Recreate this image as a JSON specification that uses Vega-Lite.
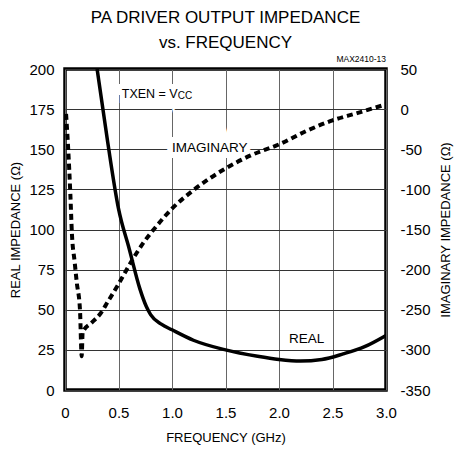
{
  "$schema": "https://vega.github.io/schema/vega-lite/v6.json",
  "width": 321,
  "height": 321,
  "autosize": {"type": "none"},
  "padding": {"left": 65, "top": 69, "right": 70, "bottom": 62},
  "background": "white",
  "title": {
    "text": ["PA DRIVER OUTPUT IMPEDANCE", "vs. FREQUENCY"],
    "font": "Liberation Sans, Arial, sans-serif",
    "fontSize": 17,
    "fontWeight": "normal",
    "color": "black",
    "lineHeight": 25,
    "anchor": "middle",
    "offset": 2.5
  },
  "config": {
    "view": {"stroke": "black", "strokeWidth": 3.5},
    "axis": {
      "labelFont": "Liberation Sans, Arial, sans-serif",
      "titleFont": "Liberation Sans, Arial, sans-serif",
      "labelFontSize": 15,
      "titleFontSize": 13,
      "titleFontWeight": "normal",
      "labelColor": "black",
      "titleColor": "black",
      "tickSize": 0,
      "tickOpacity": 0,
      "domain": false,
      "grid": true,
      "gridOpacity": 1,
      "gridWidth": 1
    },
    "text": {"font": "Liberation Sans, Arial, sans-serif"}
  },
  "datasets": {
    "real": [
      {"f": 0.3, "v": 200}, {"f": 0.4, "v": 154}, {"f": 0.5, "v": 113}, {"f": 0.6, "v": 88},
      {"f": 0.7, "v": 63}, {"f": 0.76, "v": 52}, {"f": 0.8, "v": 47}, {"f": 0.9, "v": 41},
      {"f": 1.0, "v": 37.5}, {"f": 1.2, "v": 31}, {"f": 1.5, "v": 25}, {"f": 1.8, "v": 21},
      {"f": 2.0, "v": 19}, {"f": 2.2, "v": 18}, {"f": 2.4, "v": 19}, {"f": 2.6, "v": 22.5},
      {"f": 2.8, "v": 27}, {"f": 3.0, "v": 34}
    ],
    "imag": [
      {"f": 0.01, "v": -6}, {"f": 0.03, "v": -50}, {"f": 0.05, "v": -106}, {"f": 0.065, "v": -156},
      {"f": 0.09, "v": -190}, {"f": 0.11, "v": -216}, {"f": 0.14, "v": -250}, {"f": 0.156, "v": -308},
      {"f": 0.165, "v": -278}, {"f": 0.25, "v": -266}, {"f": 0.33, "v": -255}, {"f": 0.4, "v": -240},
      {"f": 0.5, "v": -218}, {"f": 0.62, "v": -190}, {"f": 0.73, "v": -167}, {"f": 0.86, "v": -145},
      {"f": 1.0, "v": -124}, {"f": 1.2, "v": -101}, {"f": 1.5, "v": -74}, {"f": 1.73, "v": -58},
      {"f": 2.0, "v": -44}, {"f": 2.26, "v": -27}, {"f": 2.5, "v": -14}, {"f": 2.73, "v": -5},
      {"f": 3.0, "v": 6}
    ],
    "labels": [
      {"f": 1.352, "v": 148.3, "label": "IMAGINARY"},
      {"f": 2.258, "v": 29.5, "label": "REAL"}
    ],
    "txen": [
      {"f": 1.053, "v": 182.2, "main": "TXEN = V", "sub": "CC"}
    ],
    "code": [
      {"f": 3.0, "v": 204.4, "label": "MAX2410-13"}
    ]
  },
  "encoding": {
    "x": {
      "field": "f",
      "type": "quantitative",
      "scale": {"domain": [0, 3], "nice": false, "zero": false},
      "axis": {
        "values": [0, 0.5, 1, 1.5, 2, 2.5, 3],
        "labelExpr": "datum.value == 0 ? '0' : format(datum.value, '.1f')",
        "labelPadding": 15,
        "title": "FREQUENCY (GHz)",
        "titlePadding": 11,
        "grid": true,
        "gridColor": "#666",
        "labelFlush": false
      }
    }
  },
  "layer": [
    {
      "data": {"name": "real"},
      "mark": {"type": "line", "color": "black", "strokeWidth": 3.5, "interpolate": "monotone", "clip": true},
      "encoding": {
        "y": {
          "field": "v",
          "type": "quantitative",
          "scale": {"domain": [0, 200], "nice": false},
          "axis": {
            "orient": "left",
            "values": [0, 25, 50, 75, 100, 125, 150, 175, 200],
            "labelPadding": 11,
            "title": "REAL IMPEDANCE (Ω)",
            "titlePadding": 6,
            "grid": true,
            "gridColor": "#333"
          }
        }
      }
    },
    {
      "data": {"name": "labels"},
      "mark": {"type": "text", "fontSize": 13.5, "stroke": "white", "strokeWidth": 12, "align": "center", "baseline": "alphabetic"},
      "encoding": {
        "y": {"field": "v", "type": "quantitative", "scale": {"domain": [0, 200], "nice": false}, "axis": null},
        "text": {"field": "label"}
      }
    },
    {
      "data": {"name": "txen"},
      "mark": {"type": "text", "fontSize": 12.5, "stroke": "white", "strokeWidth": 10, "align": "right", "baseline": "alphabetic"},
      "encoding": {
        "y": {"field": "v", "type": "quantitative", "scale": {"domain": [0, 200], "nice": false}, "axis": null},
        "text": {"field": "main"}
      }
    },
    {
      "data": {"name": "imag"},
      "mark": {"type": "line", "color": "black", "strokeWidth": 4, "strokeDash": [6, 4], "interpolate": "monotone", "clip": true},
      "encoding": {
        "y": {
          "field": "v",
          "type": "quantitative",
          "scale": {"domain": [-350, 50], "nice": false},
          "axis": {
            "orient": "right",
            "values": [-350, -300, -250, -200, -150, -100, -50, 0, 50],
            "labelExpr": "datum.value < 0 ? '-' + abs(datum.value) : '' + datum.value",
            "labelPadding": 14,
            "title": "IMAGINARY IMPEDANCE (Ω)",
            "titleAngle": 270,
            "titleBaseline": "top",
            "titlePadding": 9,
            "grid": false
          }
        }
      }
    },
    {
      "data": {"name": "labels"},
      "mark": {"type": "text", "fontSize": 13.5, "color": "black", "align": "center", "baseline": "alphabetic"},
      "encoding": {
        "y": {"field": "v", "type": "quantitative", "scale": {"domain": [0, 200], "nice": false}, "axis": null},
        "text": {"field": "label"}
      }
    },
    {
      "data": {"name": "txen"},
      "mark": {"type": "text", "fontSize": 12.5, "color": "black", "align": "right", "baseline": "alphabetic"},
      "encoding": {
        "y": {"field": "v", "type": "quantitative", "scale": {"domain": [0, 200], "nice": false}, "axis": null},
        "text": {"field": "main"}
      }
    },
    {
      "data": {"name": "txen"},
      "mark": {"type": "text", "fontSize": 10, "color": "black", "align": "left", "baseline": "alphabetic", "dy": 1},
      "encoding": {
        "y": {"field": "v", "type": "quantitative", "scale": {"domain": [0, 200], "nice": false}, "axis": null},
        "text": {"field": "sub"}
      }
    },
    {
      "data": {"name": "code"},
      "mark": {"type": "text", "fontSize": 8.5, "color": "black", "align": "right", "baseline": "alphabetic", "clip": false},
      "encoding": {
        "y": {"field": "v", "type": "quantitative", "scale": {"domain": [0, 200], "nice": false}, "axis": null},
        "text": {"field": "label"}
      }
    }
  ],
  "resolve": {"scale": {"y": "independent"}}
}
